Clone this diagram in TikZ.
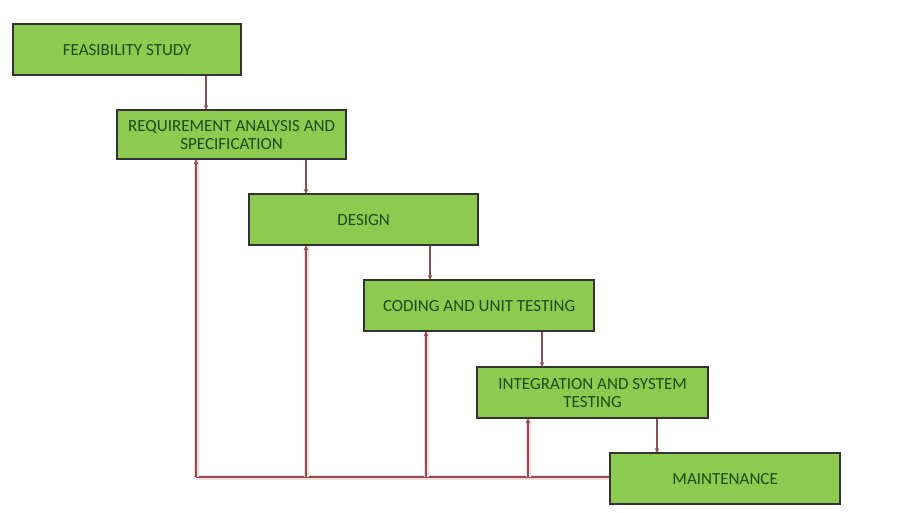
\documentclass[tikz,border=0pt]{standalone}
\usepackage{fontspec}
\setmainfont{Carlito}
\usetikzlibrary{arrows.meta}
\definecolor{boxfill}{HTML}{8CCB50}
\definecolor{boxtext}{HTML}{1E4A1A}
\definecolor{linecol}{HTML}{8E4F52}
\definecolor{glow}{HTML}{F6DADA}
\begin{document}
\begin{tikzpicture}[x=1pt,y=-1pt,
  phase/.style={draw=black!80, line width=1.3pt, fill=boxfill, text=boxtext, font=\fontsize{17}{18}\selectfont, align=center, inner sep=0pt, anchor=north west},
  glowline/.style={preaction={draw=glow, line width=5pt, -}},
  flow/.style={draw=linecol, line width=1.8pt, -{Stealth[length=5pt,width=4.5pt]}},
  back/.style={draw=linecol, line width=1.8pt, glowline},
  backarr/.style={draw=linecol, line width=1.8pt, glowline, -{Stealth[length=5pt,width=4.5pt]}}]
\useasboundingbox (0,0) rectangle (914,513);
\fill[white] (0,0) rectangle (914,513);
% feedback coordinates
\coordinate (b0) at (196,477);
\coordinate (b1) at (306,477);
\coordinate (b2) at (426,477);
\coordinate (b3) at (528,477);
\node[phase, minimum width=227pt, minimum height=50pt] (fs) at (13,24) {FEASIBILITY STUDY};
\node[phase, minimum width=228pt, minimum height=48pt] (req) at (117,110) {REQUIREMENT ANALYSIS AND\\SPECIFICATION};
\node[phase, minimum width=228pt, minimum height=50pt] (des) at (249,194) {DESIGN};
\node[phase, minimum width=229pt, minimum height=50pt] (cod) at (364,280) {CODING AND UNIT TESTING};
\node[phase, minimum width=230pt, minimum height=50pt] (int) at (477,367) {INTEGRATION AND SYSTEM\\TESTING};
\node[phase, minimum width=229pt, minimum height=50pt] (mai) at (610,453) {MAINTENANCE};
% forward flow
\draw[flow] (fs.south west -| 206,0) -- (req.north west -| 206,0);
\draw[flow] (req.south west -| 306,0) -- (des.north west -| 306,0);
\draw[flow] (des.south west -| 430,0) -- (cod.north west -| 430,0);
\draw[flow] (cod.south west -| 542,0) -- (int.north west -| 542,0);
\draw[flow] (int.south west -| 657,0) -- (mai.north west -| 657,0);
% feedback
\draw[back] (mai.west |- b0) -- (b0);
\draw[backarr] (b0) -- (req.south west -| b0);
\draw[backarr] (b1) -- (des.south west -| b1);
\draw[backarr] (b2) -- (cod.south west -| b2);
\draw[backarr] (b3) -- (int.south west -| b3);
% redraw boxes over glow
\foreach \n in {fs,req,des,cod,int,mai}{\draw[black!80, line width=1.3pt] (\n.north west) rectangle (\n.south east);}
\end{tikzpicture}
\end{document}
